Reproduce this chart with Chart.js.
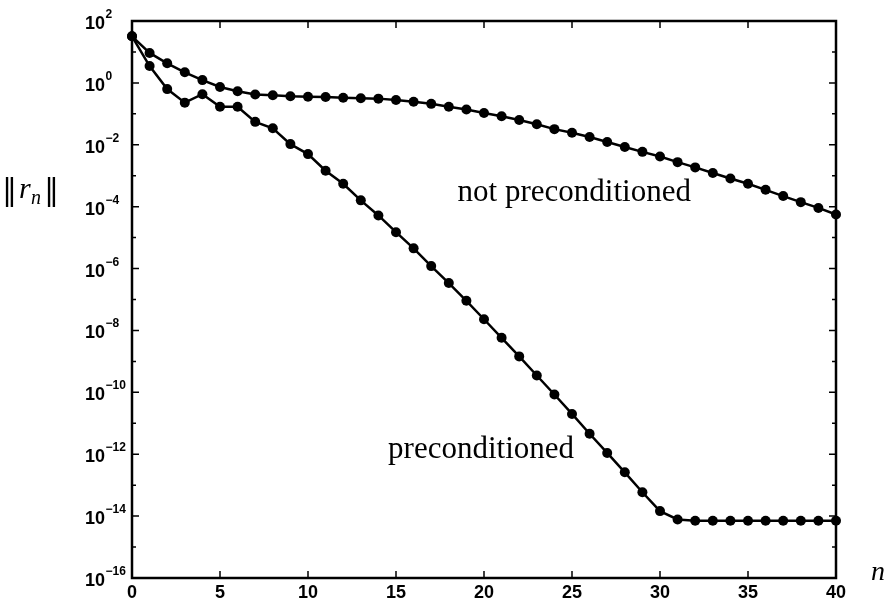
<!DOCTYPE html>
<html>
<head>
<meta charset="utf-8">
<script src="https://cdn.jsdelivr.net/npm/chart.js@4/dist/chart.umd.min.js"></script>
<style>
  body { margin: 0; background: #fff; }
  #grafico { display: block; }
</style>
</head>
<body>
<canvas id="grafico" width="887" height="600"></canvas>
<script>
/* Datos */

// Iteraciones n
let iteraciones = [0, 1, 2, 3, 4, 5, 6, 7, 8, 9, 10, 11, 12, 13, 14, 15, 16, 17, 18, 19, 20,
  21, 22, 23, 24, 25, 26, 27, 28, 29, 30, 31, 32, 33, 34, 35, 36, 37, 38, 39, 40];

// ||r_n|| sin precondicionar
let residuoSinPrecond = [32, 9.3, 4.3, 2.2, 1.23, 0.74, 0.54, 0.42, 0.40, 0.37, 0.355,
  0.35, 0.33, 0.32, 0.31, 0.28, 0.245, 0.21, 0.17, 0.138, 0.107,
  0.083, 0.063, 0.046, 0.032, 0.0245, 0.0178, 0.0123, 8.5e-3, 5.9e-3, 4.2e-3,
  2.75e-3, 1.86e-3, 1.23e-3, 8.1e-4, 5.5e-4, 3.5e-4, 2.2e-4, 1.4e-4, 9.1e-5, 5.6e-5];

// ||r_n|| precondicionado
let residuoPrecond = [32, 3.5, 0.63, 0.23, 0.43, 0.17, 0.17, 0.055, 0.034, 0.0105, 5.0e-3,
  1.45e-3, 5.5e-4, 1.6e-4, 5.2e-5, 1.5e-5, 4.5e-6, 1.2e-6, 3.4e-7, 9.1e-8, 2.3e-8,
  5.8e-9, 1.45e-9, 3.5e-10, 8.5e-11, 2.0e-11, 4.6e-12, 1.1e-12, 2.6e-13, 5.9e-14, 1.45e-14,
  7.8e-15, 7.1e-15, 7.1e-15, 7.1e-15, 7.1e-15, 7.1e-15, 7.1e-15, 7.1e-15, 7.1e-15, 7.1e-15];

// Marcas de los ejes
let ticksX = [0, 5, 10, 15, 20, 25, 30, 35, 40];
let exponentesY = [2, 1, 0, -1, -2, -3, -4, -5, -6, -7, -8, -9, -10, -11, -12, -13, -14, -15, -16];
let exponentesEtiqueta = [2, 0, -2, -4, -6, -8, -10, -12, -14, -16];

// Etiquetas de las curvas
let etiquetaSin = { text: "not preconditioned", x: 18.5, y: 1.5e-4 };
let etiquetaCon = { text: "preconditioned", x: 14.55, y: 7.8e-13 };

function puntos(valores) {
  let arr = [];
  for (let i = 0; i < iteraciones.length; i++) {
    arr.push({ x: iteraciones[i], y: valores[i] });
  }
  return arr;
}

// Marco, marcas interiores, etiquetas 10^k y textos
const marco = {
  id: "marco",
  afterDatasetsDraw(chart) {
    const ctx = chart.ctx;
    const a = chart.chartArea;
    const sx = chart.scales.x;
    const sy = chart.scales.y;
    ctx.save();
    ctx.strokeStyle = "#000";
    ctx.lineWidth = 2.5;
    ctx.strokeRect(a.left, a.top, a.right - a.left, a.bottom - a.top);

    ctx.lineWidth = 1.5;
    ctx.beginPath();
    ticksX.forEach(v => {
      const px = sx.getPixelForValue(v);
      ctx.moveTo(px, a.bottom); ctx.lineTo(px, a.bottom - 7);
      ctx.moveTo(px, a.top); ctx.lineTo(px, a.top + 7);
    });
    exponentesY.forEach(e => {
      const py = sy.getPixelForValue(Math.pow(10, e));
      const len = e % 2 === 0 ? 7 : 4;
      ctx.moveTo(a.left, py); ctx.lineTo(a.left + len, py);
      ctx.moveTo(a.right, py); ctx.lineTo(a.right - len, py);
    });
    ctx.stroke();

    // etiquetas del eje y: 10 con exponente
    ctx.fillStyle = "#000";
    ctx.textAlign = "left";
    ctx.textBaseline = "alphabetic";
    exponentesEtiqueta.forEach(e => {
      const py = sy.getPixelForValue(Math.pow(10, e));
      ctx.font = 'bold 18px "Liberation Sans", Arial, sans-serif';
      ctx.fillText("10", 85, py + 8);
      const w = ctx.measureText("10").width;
      ctx.font = 'bold 12px "Liberation Sans", Arial, sans-serif';
      ctx.fillText(e < 0 ? "\u2212" + Math.abs(e) : String(e), 85 + w + 0.5, py - 3);
    });

    // textos de las curvas
    ctx.font = '31px "Liberation Serif", serif';
    [etiquetaSin, etiquetaCon].forEach(t => {
      ctx.fillText(t.text, sx.getPixelForValue(t.x), sy.getPixelForValue(t.y));
    });

    // titulo eje x: n
    ctx.font = 'italic 28px "Liberation Serif", serif';
    ctx.fillText("n", 871, 580);

    // titulo eje y: ||r_n||
    const yc = 200;
    ctx.font = '30px "DejaVu Serif", serif';
    ctx.fillText("\u2016", 2, yc);
    ctx.font = 'italic 30px "Liberation Serif", serif';
    ctx.fillText("r", 19, yc - 2);
    ctx.font = 'italic 20px "Liberation Serif", serif';
    ctx.fillText("n", 31, yc + 4);
    ctx.font = '30px "DejaVu Serif", serif';
    ctx.fillText("\u2016", 44, yc);
    ctx.restore();
  }
};

const fuenteTicks = { family: '"Liberation Sans", Arial, sans-serif', size: 18, weight: "bold" };

function estiloSerie(etiqueta, valores) {
  return {
    label: etiqueta,
    data: puntos(valores),
    borderColor: "#000",
    backgroundColor: "#000",
    borderWidth: 2.5,
    pointRadius: 5,
    pointBorderWidth: 0,
    pointBackgroundColor: "#000",
    tension: 0,
    clip: false
  };
}

var chart = new Chart(document.getElementById("grafico"), {
  type: "line",
  data: {
    datasets: [
      estiloSerie("not preconditioned", residuoSinPrecond),
      estiloSerie("preconditioned", residuoPrecond)
    ]
  },
  options: {
    responsive: false,
    animation: false,
    layout: { padding: { left: 0, right: 51, top: 21, bottom: 0 } },
    plugins: { legend: { display: false }, tooltip: { enabled: false } },
    scales: {
      x: {
        type: "linear",
        min: 0,
        max: 40,
        afterBuildTicks: s => { s.ticks = ticksX.map(v => ({ value: v })); },
        afterFit: s => { s.height = 22; },
        grid: { display: false, drawTicks: false },
        border: { display: false },
        ticks: { color: "#000", font: fuenteTicks, padding: 4, maxRotation: 0, autoSkip: false }
      },
      y: {
        type: "logarithmic",
        min: 1e-16,
        max: 1e2,
        afterBuildTicks: s => { s.ticks = exponentesY.map(e => ({ value: Math.pow(10, e) })); },
        afterFit: s => { s.width = 132; },
        grid: { display: false, drawTicks: false },
        border: { display: false },
        ticks: { display: false }
      }
    }
  },
  plugins: [marco]
});
</script>
</body>
</html>
